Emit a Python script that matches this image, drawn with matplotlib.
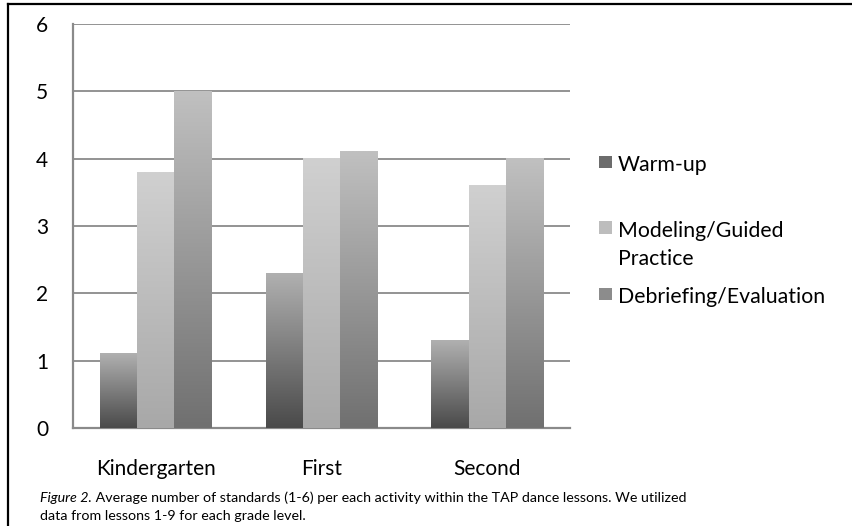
import numpy as np
import matplotlib.pyplot as plt
from matplotlib.colors import LinearSegmentedColormap
from matplotlib.lines import Line2D
from matplotlib.patches import Rectangle

plt.rcParams['font.family'] = ['Lato', 'DejaVu Sans']

grades = ['Kindergarten', 'First', 'Second']
series_names = ['Warm-up', 'Modeling/Guided\nPractice', 'Debriefing/Evaluation']
warm_up = [1.1, 2.3, 1.3]
modeling = [3.8, 4.0, 3.6]
debriefing = [5.0, 4.1, 4.0]
y_ticks = [0, 1, 2, 3, 4, 5, 6]

# (top colour, bottom colour) of each series gradient
shades = [('#b0b0b0', '#4a4a4a'), ('#d0d0d0', '#a8a8a8'), ('#c0c0c0', '#707070')]
legend_colors = ['#6c6c6c', '#bdbdbd', '#8c8c8c']

fig = plt.figure(figsize=(8.53, 5.26), dpi=100)
ax = fig.add_axes([0.0856, 0.1863, 0.5827, 0.7681])

x = np.arange(len(grades))
width = 0.225
for i, vals in enumerate([warm_up, modeling, debriefing]):
    bars = ax.bar(x + (i - 1) * width, vals, width, color='none', edgecolor='none', zorder=3)
    cmap = LinearSegmentedColormap.from_list('s%d' % i, [shades[i][1], shades[i][0]])
    for b in bars:
        x0 = b.get_x()
        h = b.get_height()
        grad = np.linspace(0, 1, 200).reshape(-1, 1)
        ax.imshow(grad, cmap=cmap, aspect='auto', origin='lower',
                  extent=[x0, x0 + b.get_width(), 0, h], zorder=3)

ax.set_xlim(-0.5, 2.5)
ax.set_ylim(0, 6)
ax.set_yticks(y_ticks)
ax.set_xticks(x)
ax.set_xticklabels(grades, fontsize=15.3)
ax.tick_params(axis='both', length=0, labelsize=15, colors='black')
ax.tick_params(axis='y', pad=18)
ax.tick_params(axis='x', pad=22)
ax.yaxis.grid(True, color='#8a8a8a', linewidth=1.3, zorder=0)
ax.set_axisbelow(True)
for side in ['top', 'right']:
    ax.spines[side].set_visible(False)
for side in ['left', 'bottom']:
    ax.spines[side].set_color('#8a8a8a')
    ax.spines[side].set_linewidth(1.6)

# legend drawn by hand on the right of the plot area
legend_y = [0.690, 0.565, 0.439]
line_step = 0.053
for name, c, ly in zip(series_names, legend_colors, legend_y):
    fig.patches.append(Rectangle((0.702, ly - 0.010), 0.0155, 0.024, transform=fig.transFigure,
                                 facecolor=c, edgecolor='none'))
    for k, part in enumerate(name.split('\n')):
        fig.text(0.724, ly - k * line_step, part, fontsize=15.3, va='center_baseline', ha='left')

# frame around the figure
fig.lines.append(Line2D([0.0095, 0.0095], [0, 0.993], transform=fig.transFigure, color='black', lw=1.6))
fig.lines.append(Line2D([0.0095, 1], [0.993, 0.993], transform=fig.transFigure, color='black', lw=1.6))

# caption
t1 = fig.text(0.047, 0.041, 'Figure 2.', fontsize=10.3, style='italic', va='bottom')
ax.annotate(' Average number of standards (1-6) per each activity within the TAP dance lessons. We utilized',
            xy=(1, 0), xycoords=t1, va='bottom', ha='left', fontsize=10.3)
fig.text(0.047, 0.007, 'data from lessons 1-9 for each grade level.', fontsize=10.3, va='bottom')

fig.savefig('out.png', dpi=100)
